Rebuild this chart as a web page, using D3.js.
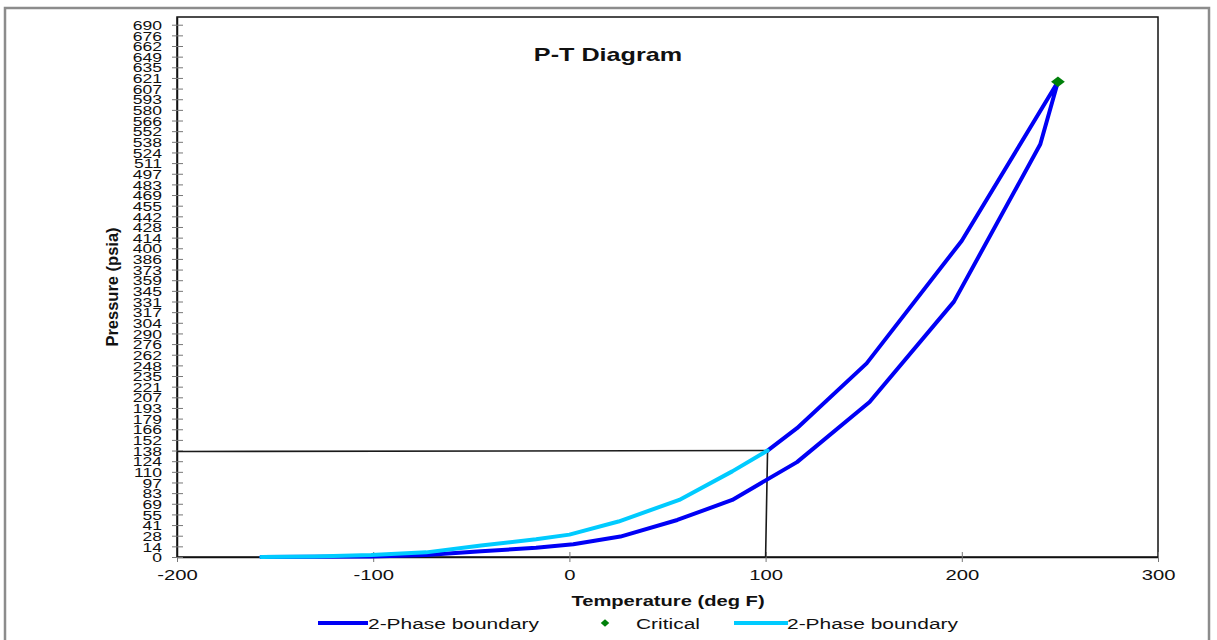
<!DOCTYPE html>
<html>
<head>
<meta charset="utf-8">
<script src="https://cdn.jsdelivr.net/npm/d3@7"></script>
<style>
  html, body { margin: 0; padding: 0; background: #fff; }
  svg { display: block; }
  text { font-family: "Liberation Sans", Arial, sans-serif; fill: #111; }
</style>
</head>
<body>
<svg id="chart" width="1217" height="640"></svg>
<script>
// Phase envelope of a hydrocarbon mixture (temperature in deg F, pressure in psia)

// Dew-point side of the envelope, up to the critical point
const dewTemp = [-157, -130, -101, -73, -45, -17, 2, 26, 55, 83, 116, 153, 196, 240, 249];
const dewPres = [0, 0.2, 0.8, 2.5, 7.5, 12, 16.5, 26.5, 48, 74, 123, 201, 331, 535, 616];

// Bubble-point side above the operating pressure, back down from the critical point
const bubbleTemp = [249, 200, 151.5, 116, 101];
const bubblePres = [616, 410, 251, 167, 138];

// Bubble-point side below the operating pressure
const lowTemp = [-157, -130, -101, -73, -45, -17, 0, 25, 56, 83, 101];
const lowPres = [0, 0.8, 2.5, 6, 15, 23, 29, 46, 74, 111, 138];

// Critical point
const critTemp = [249];
const critPres = [616];

// Operating point guide lines
const guideTemp = [-200, 101, 100];
const guidePres = [136.8, 138, 0];

// Axis ticks
const tempTicks = [-200, -100, 0, 100, 200, 300];
const presStep = 13.8;
const presTickLabels = ["0", "14", "28", "41", "55", "69", "83", "97", "110", "124", "138", "152", "166",
  "179", "193", "207", "221", "235", "248", "262", "276", "290", "304", "317", "331", "345", "359",
  "373", "386", "400", "414", "428", "442", "455", "469", "483", "497", "511", "524", "538", "552",
  "566", "580", "593", "607", "621", "635", "649", "662", "676", "690"];

const seriesNames = ["2-Phase boundary", "Critical", "2-Phase boundary"];
const DARK = "#0000f5", LIGHT = "#00cbff", GREEN = "#00800a";

const svg = d3.select("#chart");
const plot = { left: 177, right: 1158, top: 17, bottom: 557 };

const x = d3.scaleLinear().domain([-200, 300]).range([plot.left, plot.right]);
const y = d3.scaleLinear().domain([0, 700]).range([plot.bottom, plot.top]);

// text with a slight horizontal stretch
function label(sel, px, py, str, o) {
  const sx = o.sx == null ? 1.35 : o.sx;
  const rot = o.rotate ? ` rotate(${o.rotate})` : "";
  return sel.append("text")
    .attr("transform", `translate(${px},${py})${rot} scale(${sx},1)`)
    .attr("text-anchor", o.anchor || "start")
    .attr("dy", o.dy || null)
    .style("font-size", o.size + "px")
    .style("font-weight", o.weight || "normal")
    .text(str);
}

// outer frame
svg.append("rect")
  .attr("x", 5).attr("y", 8).attr("width", 1204).attr("height", 640)
  .attr("fill", "none").attr("stroke", "#8c8c8c").attr("stroke-width", 2.5);

// plot frame
svg.append("rect")
  .attr("x", plot.left).attr("y", plot.top)
  .attr("width", plot.right - plot.left).attr("height", plot.bottom - plot.top)
  .attr("fill", "none").attr("stroke", "#111").attr("stroke-width", 1.5);

// x axis
const xAxis = svg.append("g").attr("transform", `translate(0,${plot.bottom})`)
  .call(d3.axisBottom(x).tickValues(tempTicks).tickFormat(d => String(d)).tickSize(5).tickSizeOuter(0));
xAxis.select(".domain").attr("stroke", "#111").attr("stroke-width", 1.5);
xAxis.selectAll(".tick line").attr("stroke", "#777").attr("y1", -5).attr("y2", 5);
xAxis.selectAll(".tick text").remove();
xAxis.selectAll(".tick").each(function (d) {
  label(d3.select(this), 0, 23, String(d), { size: 15, anchor: "middle" });
});

// y axis
const presTicks = presTickLabels.map((_, i) => i * presStep);
const yAxis = svg.append("g").attr("transform", `translate(${plot.left},0)`)
  .call(d3.axisLeft(y).tickValues(presTicks).tickSize(5).tickSizeOuter(0));
yAxis.select(".domain").attr("stroke", "#111").attr("stroke-width", 1.5);
yAxis.selectAll(".tick line").attr("stroke", "#777").attr("x1", 6).attr("x2", -5);
yAxis.selectAll(".tick text").remove();
yAxis.selectAll(".tick").each(function (d, i) {
  label(d3.select(this), -15, 0, presTickLabels[i], { size: 13, anchor: "end", dy: "0.36em" });
});

// guide lines to the operating point
const line = (tArr, pArr) => d3.line().x((d, i) => x(tArr[i])).y((d, i) => y(pArr[i]))(tArr);
svg.append("path").attr("d", line(guideTemp, guidePres))
  .attr("fill", "none").attr("stroke", "#1a1a1a").attr("stroke-width", 1.6);

// envelope
const envTemp = dewTemp.concat(bubbleTemp.slice(1));
const envPres = dewPres.concat(bubblePres.slice(1));
svg.append("path").attr("d", line(envTemp, envPres))
  .attr("fill", "none").attr("stroke", DARK).attr("stroke-width", 4)
  .attr("stroke-linejoin", "round").attr("stroke-linecap", "round");
svg.append("path").attr("d", line(lowTemp, lowPres))
  .attr("fill", "none").attr("stroke", LIGHT).attr("stroke-width", 4)
  .attr("stroke-linejoin", "round").attr("stroke-linecap", "round");

// critical point (a square turned on its corner, slightly widened)
const diamond = d3.symbol().type(d3.symbolSquare).size(56);
svg.selectAll(".crit").data(critTemp).join("path")
  .attr("class", "crit")
  .attr("d", diamond)
  .attr("transform", (d, i) => `translate(${x(d)},${y(critPres[i])}) scale(1.3,1) rotate(45)`)
  .attr("fill", GREEN);

// titles
label(svg, 608, 61, "P-T Diagram", { size: 18, weight: "bold", anchor: "middle", sx: 1.4 });
label(svg, 668, 606, "Temperature (deg F)", { size: 15.5, weight: "bold", anchor: "middle", sx: 1.3 });
label(svg, 118, 287, "Pressure (psia)", { size: 16.5, weight: "bold", anchor: "middle", rotate: -90, sx: 1 });

// legend
const lg = svg.append("g");
const legendY = 623;
lg.append("line").attr("x1", 318).attr("x2", 368).attr("y1", legendY).attr("y2", legendY)
  .attr("stroke", DARK).attr("stroke-width", 4);
label(lg, 368, legendY, seriesNames[0], { size: 15.5, dy: "0.36em" });
lg.append("path").attr("d", d3.symbol().type(d3.symbolSquare).size(30))
  .attr("transform", `translate(605,${legendY}) scale(1.1,1) rotate(45)`).attr("fill", GREEN);
label(lg, 636, legendY, seriesNames[1], { size: 15.5, dy: "0.36em" });
lg.append("line").attr("x1", 734).attr("x2", 788).attr("y1", legendY).attr("y2", legendY)
  .attr("stroke", LIGHT).attr("stroke-width", 4);
label(lg, 787, legendY, seriesNames[2], { size: 15.5, dy: "0.36em" });
</script>
</body>
</html>
